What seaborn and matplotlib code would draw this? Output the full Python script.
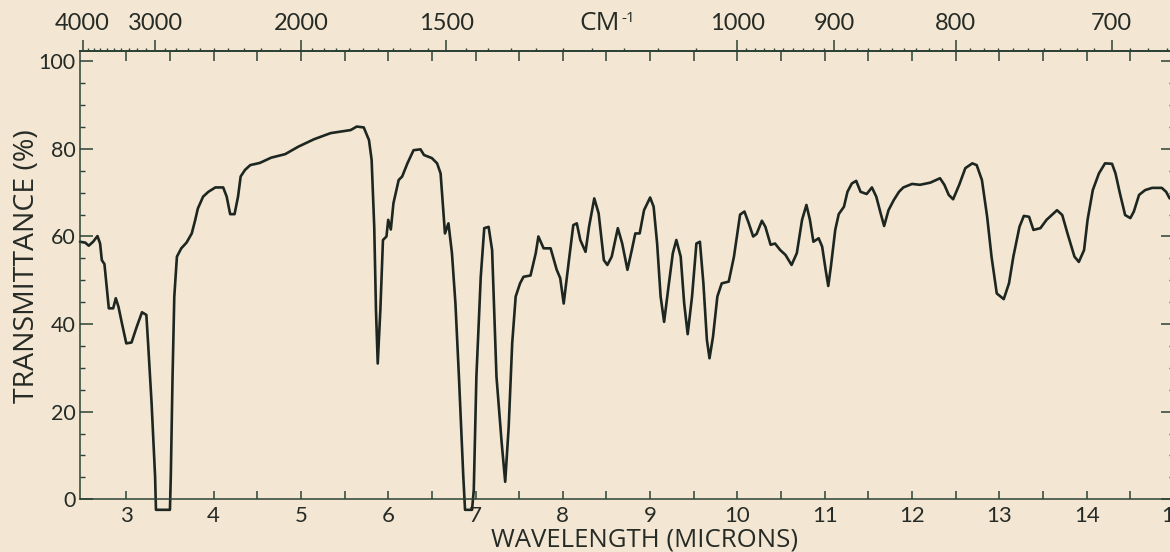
import numpy as np
import pandas as pd
import matplotlib
matplotlib.use("Agg")
import matplotlib.pyplot as plt
import seaborn as sns
from matplotlib.ticker import MultipleLocator

# ---- data ----
wavelength = [
    2.47, 2.53, 2.57, 2.62, 2.67, 2.70, 2.72, 2.75, 2.80, 2.85, 2.88, 2.91, 2.95,
    3.00, 3.06, 3.12, 3.18, 3.23, 3.25, 3.29, 3.33, 3.34, 3.50, 3.51, 3.53, 3.55,
    3.58, 3.63, 3.69, 3.75, 3.79, 3.82, 3.88, 3.94, 4.02, 4.11, 4.15, 4.19, 4.24,
    4.28, 4.31, 4.36, 4.42, 4.53, 4.66, 4.82, 4.97, 5.15, 5.34, 5.57, 5.64, 5.72,
    5.78, 5.81, 5.84, 5.86, 5.88, 5.91, 5.94, 5.98, 6.00, 6.03, 6.06, 6.12, 6.16,
    6.22, 6.29, 6.37, 6.41, 6.50, 6.56, 6.60, 6.63, 6.65, 6.69, 6.73, 6.77, 6.81,
    6.86, 6.88, 6.96, 6.98, 7.01, 7.06, 7.10, 7.15, 7.19, 7.24, 7.30, 7.34, 7.38,
    7.42, 7.46, 7.51, 7.55, 7.63, 7.69, 7.72, 7.78, 7.86, 7.93, 7.97, 8.01, 8.07,
    8.12, 8.16, 8.20, 8.26, 8.30, 8.36, 8.41, 8.47, 8.51, 8.56, 8.63, 8.68, 8.74,
    8.79, 8.83, 8.88, 8.93, 9.00, 9.04, 9.08, 9.12, 9.16, 9.21, 9.26, 9.30, 9.35,
    9.39, 9.43, 9.48, 9.53, 9.57, 9.61, 9.65, 9.68, 9.72, 9.77, 9.82, 9.90, 9.96,
    10.03, 10.08, 10.13, 10.18, 10.22, 10.28, 10.32, 10.38, 10.43, 10.49, 10.55,
    10.62, 10.68, 10.74, 10.79, 10.83, 10.87, 10.93, 10.97, 11.01, 11.04, 11.07,
    11.12, 11.16, 11.22, 11.26, 11.31, 11.36, 11.41, 11.48, 11.54, 11.59, 11.64,
    11.68, 11.73, 11.79, 11.85, 11.90, 12.00, 12.09, 12.21, 12.32, 12.37, 12.42,
    12.47, 12.54, 12.61, 12.69, 12.74, 12.80, 12.86, 12.91, 12.97, 13.05, 13.11,
    13.16, 13.23, 13.28, 13.34, 13.39, 13.47, 13.54, 13.66, 13.72, 13.78, 13.86,
    13.91, 13.97, 14.01, 14.07, 14.14, 14.21, 14.29, 14.33, 14.38, 14.44, 14.50,
    14.54, 14.60, 14.67, 14.75, 14.86, 14.91, 14.95,
]
transmittance = [
    58.8, 58.6, 57.9, 58.8, 60.1, 58.4, 54.6, 53.7, 43.6, 43.6, 45.9, 44.0, 40.2,
    35.6, 35.8, 39.4, 42.7, 42.1, 35.6, 21.9, 5.2, -2.4, -2.4, 5.2, 28.0, 46.3,
    55.4, 57.3, 58.6, 60.7, 63.8, 66.4, 69.1, 70.2, 71.2, 71.2, 69.1, 65.1, 65.1,
    69.1, 73.7, 75.2, 76.3, 76.8, 78.0, 78.8, 80.5, 82.2, 83.6, 84.3, 85.1, 84.9,
    82.0, 77.5, 62.2, 43.2, 31.0, 43.2, 59.2, 60.0, 63.8, 61.6, 67.6, 72.9, 73.7,
    76.7, 79.7, 79.9, 78.6, 77.9, 76.7, 74.4, 66.0, 60.7, 63.0, 56.2, 44.7, 28.0,
    5.2, -2.4, -2.4, 2.1, 28.0, 50.8, 61.9, 62.2, 56.9, 28.0, 12.8, 4.0, 16.6,
    35.6, 46.3, 49.3, 50.8, 51.1, 56.2, 60.0, 57.3, 57.3, 52.4, 50.5, 44.7, 54.6,
    62.6, 63.0, 59.2, 56.5, 62.2, 68.7, 65.3, 54.6, 53.5, 55.4, 61.9, 58.4, 52.4,
    56.9, 60.7, 60.7, 66.0, 68.9, 66.8, 58.4, 46.3, 40.5, 48.5, 56.2, 59.2, 55.4,
    44.7, 37.7, 46.3, 58.4, 58.8, 49.3, 36.4, 32.2, 37.1, 46.3, 49.3, 49.7, 55.4,
    65.0, 65.7, 63.0, 60.0, 60.6, 63.6, 62.2, 58.1, 58.4, 56.9, 55.8,
    53.5, 56.2, 63.8, 67.2, 63.8, 58.8, 59.6, 57.7, 52.4, 48.7, 53.1,
    61.5, 65.1, 66.8, 70.2, 72.1, 72.7, 70.2, 69.7, 71.2, 69.1, 65.3,
    62.4, 66.0, 68.3, 70.2, 71.2, 72.0, 71.8, 72.3, 73.3, 71.8, 69.5,
    68.5, 71.8, 75.6, 76.7, 76.3, 72.9, 64.5, 55.4, 47.0, 45.7, 49.3,
    55.4, 62.2, 64.7, 64.5, 61.5, 61.9, 63.8, 66.0, 64.9, 60.7, 55.4,
    54.2, 56.9, 63.8, 70.6, 74.4, 76.7, 76.6, 74.4, 69.9, 64.9, 64.2,
    65.7, 69.5, 70.6, 71.1, 71.1, 70.2, 68.7,
]
micron_ticks = [3, 4, 5, 6, 7, 8, 9, 10, 11, 12, 13, 14, 15]
percent_ticks = [0, 20, 40, 60, 80, 100]
wavenumber_major = [4000, 3000, 2000, 1500, 1000, 900, 800, 700]
wavenumber_minor = ([w for w in range(3900, 2000, -100)]
                    + [w for w in range(1950, 1000, -50)]
                    + [w for w in range(990, 660, -10) if w not in (900, 800, 700)])

PAPER = "#f3e7d3"
INK = "#1d2620"
AXIS = "#2c4235"
TEXT = "#262b26"
TITLE_FONT = ["Open Sans", "DejaVu Sans"]

sns.set_theme(style="ticks")
plt.rcParams["font.family"] = ["Lato", "DejaVu Sans"]

W, H = 1170, 552
fig = plt.figure(figsize=(W / 100, H / 100), dpi=100, facecolor=PAPER)
ax = fig.add_axes([80 / W, (H - 499.3) / H, 1094 / W, 448.3 / H])
ax.set_facecolor(PAPER)

df = pd.DataFrame({"wavelength": wavelength, "transmittance": transmittance})
sns.lineplot(data=df, x="wavelength", y="transmittance", ax=ax, color=INK,
             linewidth=1.9, sort=False, estimator=None)
for ln in ax.lines:
    ln.set_clip_on(False)
    ln.set_solid_joinstyle("round")
    ln.set_solid_capstyle("round")

ax.set_xlim(2.47, 15.0)
ax.set_ylim(0, 102.35)
ax.set_xlabel("")
ax.set_ylabel("")

for sp in ax.spines.values():
    sp.set_color(AXIS)
    sp.set_linewidth(1.1)

# bottom micron axis
ax.set_xticks(micron_ticks)
ax.set_xticks([m + 0.5 for m in micron_ticks[:-1]], minor=True)
ax.tick_params(axis="x", which="both", direction="in", length=5.5, width=1.1,
               bottom=True, top=False, color=AXIS, labelcolor=TEXT,
               labelsize=16, pad=5)

# left / right transmittance axis
ax.set_yticks(percent_ticks)
ax.yaxis.set_minor_locator(MultipleLocator(5))
ax.tick_params(axis="y", which="major", direction="in", length=9.5, width=1.1,
               left=True, right=True, color=AXIS, labelcolor=TEXT,
               labelsize=15.5, pad=3)
ax.tick_params(axis="y", which="minor", direction="in", length=3.5, width=1.0,
               left=True, right=True, color=AXIS)


def to_wn(x):
    x = np.asarray(x, dtype=float)
    with np.errstate(divide="ignore", invalid="ignore"):
        return 10000.0 / x


# top wavenumber axis (ticks point up)
sec = ax.secondary_xaxis("top", functions=(to_wn, to_wn))
sec.set_xticks(wavenumber_major)
sec.set_xticks(wavenumber_minor, minor=True)
sec.set_xticklabels([str(w) for w in wavenumber_major])
sec.tick_params(which="major", direction="out", length=8, width=1.1,
                color=AXIS, labelcolor=TEXT, labelsize=17, pad=4)
sec.tick_params(which="minor", direction="out", length=2.5, width=1.0, color=AXIS)
sec.spines["top"].set_color(AXIS)
sec.spines["top"].set_linewidth(1.1)

# micron ticks hanging down from the top edge
sec2 = ax.secondary_xaxis("top")
sec2.set_xticks([m / 2 for m in range(6, 31)])
sec2.set_xticklabels([])
sec2.tick_params(direction="in", length=7.5, width=1.1, color=AXIS, labeltop=False)
sec2.spines["top"].set_color(AXIS)

fig.text(27 / W, 1 - 266 / H, "TRANSMITTANCE (%)", rotation=90, ha="center",
         va="center", fontsize=20.5, color=TEXT, family=TITLE_FONT)
fig.text(645 / W, 1 - 540 / H, "WAVELENGTH (MICRONS)", ha="center", va="center",
         fontsize=18.5, color=TEXT, family=TITLE_FONT)
fig.text(620 / W, 1 - 23 / H, "CM", ha="right", va="center", fontsize=19,
         color=TEXT, family=TITLE_FONT)
fig.text(621 / W, 1 - 18 / H, "-1", ha="left", va="center", fontsize=11,
         color=TEXT, family=TITLE_FONT)

fig.savefig("out.png", dpi=100, facecolor=PAPER)
